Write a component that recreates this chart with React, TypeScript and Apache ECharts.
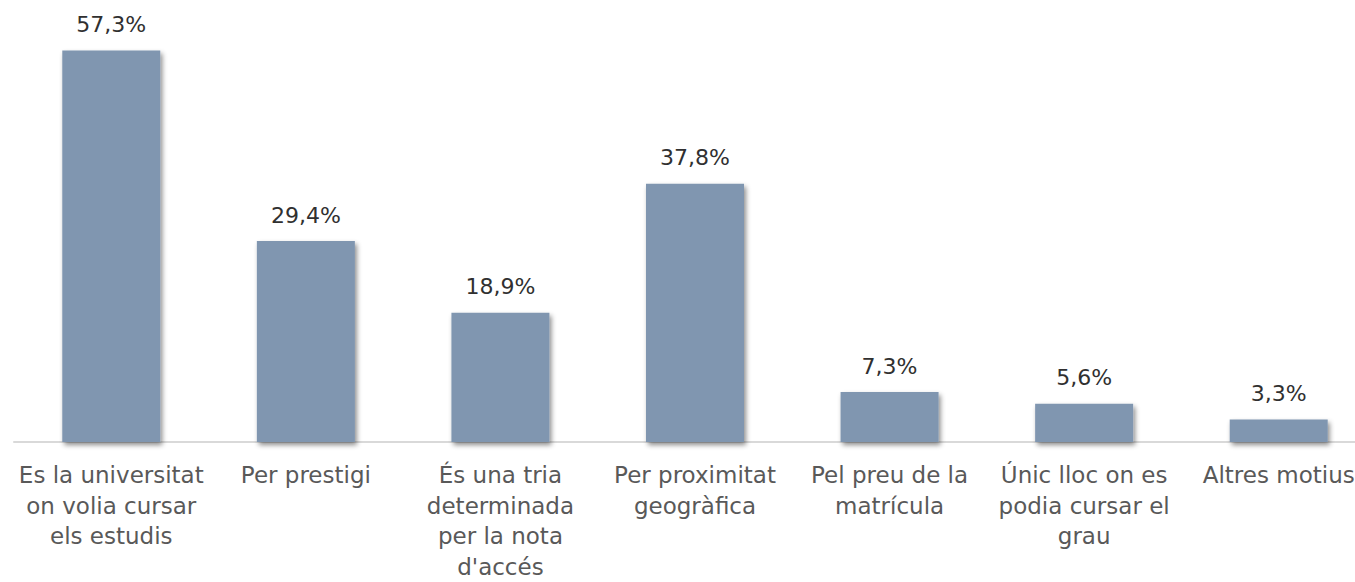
import React, { useEffect, useRef } from "react";
import * as echarts from "echarts";

const categories: string[] = [
  "Es la universitat\non volia cursar\nels estudis",
  "Per prestigi",
  "És una tria\ndeterminada\nper la nota\nd'accés",
  "Per proximitat\ngeogràfica",
  "Pel preu de la\nmatrícula",
  "Únic lloc on es\npodia cursar el\ngrau",
  "Altres motius",
];

const values: number[] = [57.3, 29.4, 18.9, 37.8, 7.3, 5.6, 3.3];

const FONT = "'DejaVu Sans', sans-serif";

export default function App() {
  const ref = useRef<HTMLDivElement>(null);

  useEffect(() => {
    if (!ref.current) return;
    const chart = echarts.init(ref.current, undefined, { renderer: "svg" });
    chart.setOption({
      animation: false,
      backgroundColor: "#ffffff",
      grid: { left: 14, width: 1362, top: 32, bottom: 138, containLabel: false },
      xAxis: {
        type: "category",
        data: categories,
        axisLine: { show: true, lineStyle: { color: "#d9d9d9", width: 2 } },
        axisTick: { show: false },
        axisLabel: {
          interval: 0,
          margin: 18,
          color: "#595959",
          fontFamily: FONT,
          fontSize: 23,
          lineHeight: 30.5,
          align: "center",
          verticalAlign: "top",
        },
      },
      yAxis: {
        type: "value",
        min: 0,
        max: 60,
        show: false,
        splitLine: { show: false },
      },
      series: [
        {
          type: "bar",
          data: values,
          barWidth: 98,
          itemStyle: {
            color: "#8096b0",
            shadowColor: "rgba(0,0,0,0.45)",
            shadowBlur: 5,
            shadowOffsetX: 2,
            shadowOffsetY: 3,
          },
          label: {
            show: true,
            position: "top",
            distance: 15,
            color: "#303030",
            fontFamily: FONT,
            fontSize: 22,
            formatter: (p: any) => p.value.toFixed(1).replace(".", ",") + "%",
          },
        },
      ],
    });
    return () => chart.dispose();
  }, []);

  return (
    <div
      style={{
        position: "fixed",
        left: 0,
        top: 0,
        width: 1355,
        height: 582,
        overflow: "hidden",
        background: "#fff",
      }}
    >
      <div ref={ref} style={{ width: 1400, height: 582 }} />
    </div>
  );
}
